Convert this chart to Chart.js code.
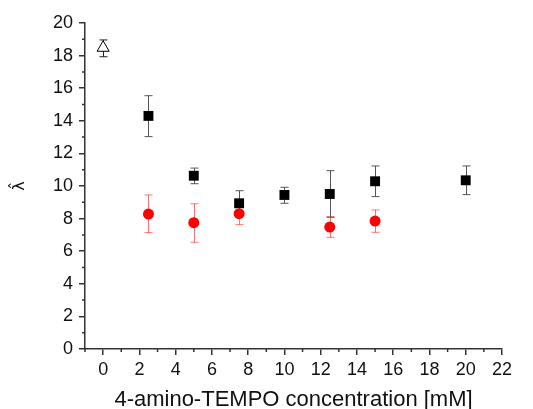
<!DOCTYPE html>
<html>
<head>
<meta charset="utf-8">
<script src="https://cdn.jsdelivr.net/npm/chart.js@4.4.0/dist/chart.umd.min.js"></script>
<style>
  html, body { margin: 0; padding: 0; background: #fff; }
  #wrap { width: 533px; height: 409px; }
</style>
</head>
<body>
<div id="wrap"><canvas id="myChart" width="533" height="409"></canvas></div>
<script>
// black squares
const blackX = [2.5, 5, 7.5, 10, 12.5, 15, 20]
const blackY = [14.3, 10.63, 8.94, 9.45, 9.51, 10.29, 10.35]
const blackHi = [15.54, 11.1, 9.71, 9.92, 10.94, 11.23, 11.23]
const blackLo = [13.03, 10.14, 8.16, 8.94, 8.08, 9.35, 9.47]
// red circles
const redX = [2.5, 5, 7.5, 12.5, 15]
const redY = [8.28, 7.75, 8.3, 7.48, 7.85]
const redHi = [9.45, 8.91, 8.9, 8.12, 8.53]
const redLo = [7.14, 6.55, 7.63, 6.85, 7.16]
// open triangle
const triX = [0]
const triY = [18.48]
const triHi = [18.96]
const triLo = [17.93]

const xTicks = [0, 2, 4, 6, 8, 10, 12, 14, 16, 18, 20, 22]
const xMinor = [-1, 1, 3, 5, 7, 9, 11, 13, 15, 17, 19, 21]
const yMinor = [1, 3, 5, 7, 9, 11, 13, 15, 17, 19]

const toPts = (xs, ys) => xs.map((x, i) => ({x: x, y: ys[i]}))

// error bars + minor ticks, drawn with the chart's own scales
const extras = {
  id: 'extras',
  beforeDatasetsDraw(chart) {
    const ctx = chart.ctx
    const xs = chart.scales.x, ys = chart.scales.y
    ctx.save()
    chart.data.datasets.forEach(ds => {
      ctx.strokeStyle = ds.errColor
      ctx.lineWidth = 1
      ds.data.forEach((p, i) => {
        const px = Math.round(xs.getPixelForValue(p.x)) + 0.5
        const top = ys.getPixelForValue(ds.hi[i])
        const bot = ys.getPixelForValue(ds.lo[i])
        ctx.beginPath()
        ctx.moveTo(px, top); ctx.lineTo(px, bot)
        ctx.moveTo(px - 4, top); ctx.lineTo(px + 4, top)
        ctx.moveTo(px - 4, bot); ctx.lineTo(px + 4, bot)
        ctx.stroke()
      })
    })
    ctx.restore()
  },
  afterDraw(chart) {
    const ctx = chart.ctx
    const xs = chart.scales.x, ys = chart.scales.y
    ctx.save()
    ctx.strokeStyle = '#333'
    ctx.lineWidth = 1.5
    ctx.beginPath()
    xMinor.forEach(v => {
      const px = xs.getPixelForValue(v)
      ctx.moveTo(px, xs.top); ctx.lineTo(px, xs.top + 3)
    })
    yMinor.forEach(v => {
      const py = ys.getPixelForValue(v)
      ctx.moveTo(ys.right, py); ctx.lineTo(ys.right - 3, py)
    })
    ctx.stroke()
    ctx.restore()
  }
}

const ctx = document.getElementById('myChart')
new Chart(ctx, {
  type: 'scatter',
  data: {
    datasets: [
      {
        data: toPts(redX, redY), hi: redHi, lo: redLo, errColor: 'rgba(255,0,0,0.55)',
        pointStyle: 'circle', pointRadius: 5.5, pointHoverRadius: 5.5,
        backgroundColor: '#ff0000', borderColor: '#ff0000', borderWidth: 0
      },
      {
        data: toPts(blackX, blackY), hi: blackHi, lo: blackLo, errColor: '#555',
        pointStyle: 'rect', pointRadius: 7, pointHoverRadius: 7,
        backgroundColor: '#000', borderColor: '#000', borderWidth: 0
      },
      {
        data: toPts(triX, triY), hi: triHi, lo: triLo, errColor: '#222',
        pointStyle: 'triangle', pointRadius: 7, pointHoverRadius: 7,
        backgroundColor: '#fff', borderColor: '#000', borderWidth: 1
      }
    ]
  },
  options: {
    responsive: false,
    animation: false,
    layout: { padding: { top: 23, right: 31, left: 0, bottom: 0 } },
    plugins: { legend: { display: false }, tooltip: { enabled: false } },
    scales: {
      x: {
        type: 'linear', min: -1, max: 22,
        afterBuildTicks: s => { s.ticks = xTicks.map(v => ({value: v})) },
        afterFit: s => { s.height = 60 },
        grid: { drawOnChartArea: false, drawTicks: true, tickLength: 6, color: '#333', lineWidth: 1.5 },
        border: { display: true, color: '#333', width: 1.5 },
        ticks: { color: '#111', padding: 4, maxRotation: 0, autoSkip: false,
          font: { family: 'Liberation Sans, Arial', size: 18 } },
        title: { display: true, text: '4-amino-TEMPO concentration [mM]', color: '#111',
          padding: { top: 0, bottom: 0 },
          font: { family: 'Liberation Sans, Arial', size: 22, lineHeight: 0.8 } }
      },
      y: {
        type: 'linear', min: 0, max: 20,
        ticks: { stepSize: 2, color: '#111', padding: 6,
          font: { family: 'Liberation Sans, Arial', size: 18 } },
        afterFit: s => { s.width = 85 },
        grid: { drawOnChartArea: false, drawTicks: true, tickLength: 6, color: '#333', lineWidth: 1.5 },
        border: { display: true, color: '#333', width: 1.5 },
        title: { display: true, text: 'λ̂', color: '#111',
          padding: { top: 10, bottom: 0 },
          font: { family: 'DejaVu Sans', size: 16 } }
      }
    }
  },
  plugins: [extras]
})
</script>
</body>
</html>
